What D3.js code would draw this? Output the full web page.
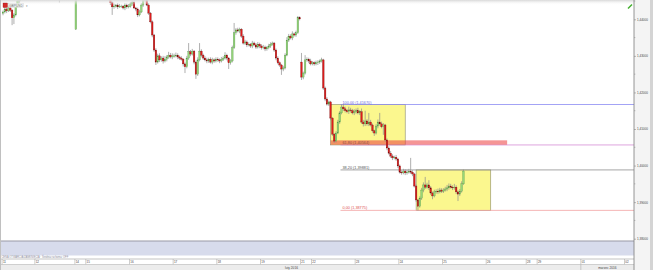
<!DOCTYPE html>
<html>
<head>
<meta charset="utf-8">
<script src="https://cdn.jsdelivr.net/npm/d3@7"></script>
<style>
  html, body { margin: 0; padding: 0; background: #fff; overflow: hidden; }
  svg { display: block; font-family: "Liberation Sans", Arial, sans-serif; }
</style>
</head>
<body>
<svg id="chart" width="653" height="270"></svg>
<script>
// GBPUSD, H1 candles, 11-25 Feb 2016
const firstOpen = 1.4416
const closes = [
  // 11
  1.4420,1.4428,1.4423,1.4431,1.4425,1.4404,1.4412,1.4436,1.4450,1.4464,1.4472,1.4478,1.4470,1.4476,1.4484,1.4480,1.4487,1.4482,
  // 12
  1.4478,1.4485,1.4491,1.4486,1.4480,1.4475,1.4479,1.4472,1.4468,1.4474,1.4470,1.4465,1.4462,1.4458,1.4466,1.4471,1.4476,1.4480,1.4477,1.4483,1.4479,1.4475,
  // 14
  1.4466,1.4470,1.4474,1.4469,1.4473,1.4478,
  // 15
  1.4482,1.4489,1.4494,1.4488,1.4484,1.4479,1.4485,1.4481,1.4476,1.4471,1.4467,1.4463,1.4459,1.4445,1.4434,1.4436,1.4439,1.4434,1.4436,1.4436,1.4431,1.4439,1.4434,1.4436,
  // 16
  1.4442,1.4447,1.4431,1.4428,1.4412,1.4420,1.4439,1.4453,1.4467,1.4439,1.4417,1.4393,1.4357,1.4316,1.4283,1.4300,1.4289,1.4294,1.4286,1.4291,1.4297,1.4302,1.4297,1.4300,
  // 17
  1.4300,1.4302,1.4297,1.4294,1.4291,1.4278,1.4270,1.4294,1.4311,1.4305,1.4313,1.4283,1.4250,1.4289,1.4313,1.4302,1.4294,1.4289,1.4286,1.4291,1.4283,1.4289,1.4286,1.4291,
  // 18
  1.4289,1.4286,1.4291,1.4294,1.4302,1.4294,1.4281,1.4286,1.4322,1.4363,1.4371,1.4368,1.4373,1.4354,1.4335,1.4338,1.4330,1.4332,1.4327,1.4335,1.4330,1.4324,1.4332,1.4327,
  // 19
  1.4322,1.4324,1.4319,1.4322,1.4327,1.4332,1.4335,1.4316,1.4294,1.4281,1.4275,1.4264,1.4267,1.4302,1.4343,1.4354,1.4349,1.4360,1.4357,1.4363,1.4404,1.4401,
  // 21
  1.4242,1.4253,1.4289,1.4291,1.4286,1.4278,
  // 22
  1.4281,1.4278,1.4281,1.4283,1.4286,1.4289,1.4212,1.4182,1.4168,1.4174,1.4130,1.4086,1.4067,1.4089,1.4119,1.4144,1.4160,1.4155,1.4150,1.4147,1.4152,1.4150,1.4144,1.4147,
  // 23
  1.4150,1.4144,1.4147,1.4119,1.4114,1.4122,1.4114,1.4119,1.4111,1.4095,1.4089,1.4108,1.4119,1.4114,1.4106,1.4111,1.4070,1.4048,1.4034,1.4026,1.4021,1.4023,1.4018,1.3999,
  // 24
  1.3982,1.3980,1.3985,1.3980,1.3982,1.3985,1.3982,1.3977,1.3944,1.3906,1.3889,1.3911,1.3933,1.3947,1.3941,1.3947,1.3939,1.3925,1.3917,1.3928,1.3930,1.3928,1.3933,1.3930,
  // 25
  1.3933,1.3936,1.3939,1.3944,1.3941,1.3939,1.3941,1.3928,1.3922,1.3930,1.3950,1.3985
]
// wick length above / below the body, in pips
const upWick = [
  4,6,3,5,4,3,5,4,6,3,5,4,6,3,4,5,3,4,
  5,3,4,6,3,4,5,3,4,6,3,5,4,3,5,4,3,6,4,3,5,4,
  4,5,3,4,6,3,
  4,5,3,6,4,3,5,4,3,5,4,3,4,5,4,7,3,5,6,4,3,5,4,6,
  5,4,6,3,4,6,5,4,3,4,5,3,4,3,5,6,7,5,6,8,5,9,6,7,
  6,7,5,4,5,3,4,6,24,5,6,3,4,7,22,5,4,5,6,4,5,6,4,5,
  5,4,6,5,8,4,3,5,6,27,5,6,4,3,5,6,4,5,3,6,4,5,6,4,
  5,6,4,5,6,5,4,3,4,5,4,3,6,5,8,6,5,7,4,6,5,4,
  25,4,13,5,4,6,
  5,4,6,5,4,6,3,4,5,4,3,2,3,5,6,5,7,8,6,5,9,6,5,7,
  6,8,5,9,6,28,5,25,6,4,3,5,7,25,6,5,3,4,5,6,5,4,6,3,
  4,5,6,5,7,6,36,5,3,4,2,5,6,7,22,6,13,5,4,6,5,7,6,5,
  5,6,8,7,6,5,9,5,4,6,7,4
]
const downWick = [
  5,4,6,3,5,20,17,4,3,5,4,6,3,5,4,3,5,4,
  4,5,3,4,6,3,5,4,3,5,4,6,3,12,4,5,3,4,6,3,4,5,
  2,4,5,3,4,5,
  3,5,4,6,3,4,5,3,4,6,3,5,4,6,22,5,4,6,3,5,4,6,5,4,
  4,5,3,6,6,4,3,5,4,3,5,4,6,5,8,4,6,5,7,4,6,5,4,6,
  5,4,6,5,4,7,17,4,5,6,4,6,13,5,4,6,5,4,6,5,4,6,5,4,
  5,6,4,5,4,6,17,5,4,3,5,4,6,5,4,5,6,4,5,6,4,5,4,6,
  5,4,6,5,4,5,4,5,6,4,5,16,6,4,3,5,4,6,4,5,3,4,
  8,6,4,5,6,4,
  4,5,4,6,5,4,5,6,4,5,6,5,5,4,3,5,4,6,5,4,6,5,4,6,
  5,4,6,5,7,6,5,6,4,5,8,4,6,5,4,22,5,6,4,5,6,4,5,6,
  4,5,4,6,5,4,5,6,4,5,11.5,4,5,6,5,4,6,5,9,4,5,6,4,5,
  5,4,6,5,4,6,5,6,19,5,4,3
]
// weekend gap opens
const gapIdx = [40, 164]
const gapOpen = [1.4373, 1.4283]

// time axis (bar index of each day's first bar)
const dayLabels = ['11','12','14','15','16','17','18','19','21','22','23','24','25','26','28','29','01','02']
const dayStarts = [0, 18, 40, 46, 70, 94, 118, 142, 164, 170, 194, 218, 242, 266, 288, 294, 318, 342]
const monthLabels = ['luty 2016', 'marzec 2016']
const monthStarts = [0, 318]
const lastBar = 346

const priceTicks = [1.38, 1.39, 1.40, 1.41, 1.42, 1.43, 1.44]
const minorTicks = [1.385, 1.395, 1.405, 1.415, 1.425, 1.435, 1.445]

// Fibonacci retracement, drawn from the 22 Feb high to the 24 Feb low
const fibLevels = [100, 61.8, 38.2, 0]
const fibPrices = [1.41670, 1.40564, 1.39881, 1.38775]
const fibFrom = 186

// yellow boxes [bar from, bar to, price top, price bottom]
const boxFrom = [180, 227]
const boxTo = [221, 268]
const boxTop = [1.41670, 1.39881]
const boxBottom = [1.40564, 1.38775]

// red zone
const zoneFrom = 180, zoneTo = 277
const zoneTop = 1.4069, zoneBottom = 1.4057

const SVG = d3.select('#chart')
const PLOT_L = 1, PLOT_R = 634, PLOT_B = 240
const comma = v => v.toFixed(5).replace('.', ',')

const x = d3.scaleLinear().domain([0, lastBar]).range([3, 632.7])
const y = d3.scaleLinear().domain([1.38, 1.44]).range([238.7, 19.3])
const step = x(1) - x(0)

// backgrounds
SVG.append('rect').attr('width', 653).attr('height', 270).attr('fill', '#fff')
SVG.append('rect').attr('x', PLOT_R).attr('y', 0).attr('width', 653 - PLOT_R).attr('height', 270).attr('fill', '#f4f4f4')
SVG.append('rect').attr('x', 650).attr('y', 0).attr('width', 3).attr('height', 270).attr('fill', '#d4d4d4')

const defs = SVG.append('defs')
defs.append('clipPath').attr('id', 'plotclip')
  .append('rect').attr('x', PLOT_L).attr('y', 0).attr('width', PLOT_R - PLOT_L).attr('height', PLOT_B)
const grad = defs.append('linearGradient').attr('id', 'topshade').attr('x1', 0).attr('x2', 0).attr('y1', 0).attr('y2', 1)
grad.append('stop').attr('offset', 0).attr('stop-color', '#d8d8d8')
grad.append('stop').attr('offset', 1).attr('stop-color', '#fff').attr('stop-opacity', 0)

const plot = SVG.append('g').attr('clip-path', 'url(#plotclip)')

// yellow boxes
plot.selectAll('.box').data(boxFrom).enter().append('rect')
  .attr('class', 'box')
  .attr('x', (d, k) => x(d))
  .attr('y', (d, k) => y(boxTop[k]))
  .attr('width', (d, k) => x(boxTo[k]) - x(d))
  .attr('height', (d, k) => y(boxBottom[k]) - y(boxTop[k]))
  .attr('fill', '#fbf78e')
  .attr('stroke', '#8a8a6a')
  .attr('stroke-width', 0.6)

// fib lines
const fibColors = ['#8c8cf2', '#d68ed6', '#8e8e8e', '#f2a2a2']
const fibText = ['#6a6ad8', '#8a4a4a', '#555', '#e05050']
plot.selectAll('.fib').data(fibPrices).enter().append('line')
  .attr('class', 'fib')
  .attr('x1', x(fibFrom) - 1).attr('x2', PLOT_R)
  .attr('y1', d => y(d)).attr('y2', d => y(d))
  .attr('stroke', (d, k) => fibColors[k])
  .attr('stroke-width', 0.8)

// red zone
plot.append('rect')
  .attr('x', x(zoneFrom)).attr('y', y(zoneTop))
  .attr('width', x(zoneTo) - x(zoneFrom)).attr('height', y(zoneBottom) - y(zoneTop))
  .attr('fill', 'rgb(236,62,62)').attr('fill-opacity', 0.55)

// candles
let prev = firstOpen
const candles = closes.map((c, i) => {
  const g = gapIdx.indexOf(i)
  const o = g >= 0 ? gapOpen[g] : prev
  prev = c
  return { i, o, c, h: Math.max(o, c) + upWick[i] * 1e-4, l: Math.min(o, c) - downWick[i] * 1e-4 }
})

plot.append('g').selectAll('line').data(candles).enter().append('line')
  .attr('x1', d => x(d.i)).attr('x2', d => x(d.i))
  .attr('y1', d => y(d.h)).attr('y2', d => y(d.l))
  .attr('stroke', '#8c8c8c').attr('stroke-width', 0.7)

plot.append('g').selectAll('rect').data(candles).enter().append('rect')
  .attr('x', d => x(d.i) - 0.8)
  .attr('width', 1.6)
  .attr('y', d => y(Math.max(d.o, d.c)))
  .attr('height', d => Math.max(0.6, Math.abs(y(d.o) - y(d.c))))
  .attr('fill', d => d.c >= d.o ? '#96d57a' : '#e01c1c')
  .attr('stroke', d => d.c >= d.o ? '#4e9440' : '#6e0808')
  .attr('stroke-width', 0.3)

// fib labels
plot.selectAll('.fiblabel').data(fibPrices).enter().append('text')
  .attr('class', 'fiblabel')
  .attr('x', x(fibFrom) + 1)
  .attr('y', d => y(d) - 0.9)
  .attr('font-size', 3.8)
  .attr('fill', (d, k) => fibText[k])
  .text((d, k) => fibLevels[k].toFixed(2).replace('.', ',') + ' (' + comma(d) + ')')

// top shade
SVG.append('rect').attr('x', PLOT_L).attr('y', 0).attr('width', PLOT_R - PLOT_L).attr('height', 5).attr('fill', 'url(#topshade)')

// symbol label
SVG.append('rect').attr('x', 3).attr('y', 3).attr('width', 4.5).attr('height', 4.5).attr('fill', '#d42a2a').attr('stroke', '#8a1010').attr('stroke-width', 0.3)
SVG.append('rect').attr('x', 8.2).attr('y', 3.2).attr('width', 15.5).attr('height', 4.2).attr('fill', '#fff').attr('fill-opacity', 0.85).attr('stroke', '#bbb').attr('stroke-width', 0.3)
SVG.append('text').attr('x', 9).attr('y', 6.5).attr('font-size', 3.3).attr('fill', '#666').text('GBPUSD')
SVG.append('text').attr('x', 25.5).attr('y', 6.5).attr('font-size', 3).attr('fill', '#888').text('▾')

// live marker
SVG.append('path').attr('d', 'M627.5,8 L631.5,4 L632.5,5 L628.5,9 Z').attr('fill', '#3fae2a')

// price axis
const yAxis = d3.axisRight(y).tickValues(priceTicks).tickSize(2).tickPadding(1).tickFormat(comma)
const ya = SVG.append('g').attr('transform', `translate(${PLOT_R},0)`).call(yAxis)
ya.attr('font-size', 3).attr('font-family', '"Liberation Sans", Arial, sans-serif')
ya.select('.domain').remove()
ya.selectAll('line').attr('stroke', '#777').attr('stroke-width', 0.5)
ya.selectAll('text').attr('font-size', 3).attr('fill', '#444')
SVG.append('g').selectAll('line').data(minorTicks).enter().append('line')
  .attr('x1', PLOT_R).attr('x2', PLOT_R + 1.4)
  .attr('y1', d => y(d)).attr('y2', d => y(d))
  .attr('stroke', '#888').attr('stroke-width', 0.5)

// indicator strip
SVG.append('rect').attr('x', PLOT_L).attr('y', 241).attr('width', PLOT_R - PLOT_L).attr('height', 14.5).attr('fill', '#d7dbec')
SVG.append('line').attr('x1', PLOT_L).attr('x2', PLOT_R).attr('y1', 241).attr('y2', 241).attr('stroke', '#9a9aa6').attr('stroke-width', 1.2)
SVG.append('text').attr('x', 1.5).attr('y', 258.2).attr('font-size', 2.6).attr('fill', '#8a8a9a')
  .text('CENA OTWARCIA/ZAMKNIĘCIA · Średnia ruchoma: OFF')

// day row
SVG.append('line').attr('x1', PLOT_L).attr('x2', PLOT_R).attr('y1', 259).attr('y2', 259).attr('stroke', '#9a9a9a').attr('stroke-width', 0.6)
const dayRow = SVG.append('g')
dayRow.selectAll('line').data(dayStarts).enter().append('line')
  .attr('x1', d => x(d) - step / 2).attr('x2', d => x(d) - step / 2)
  .attr('y1', 259).attr('y2', 264.5)
  .attr('stroke', '#9a9a9a').attr('stroke-width', 0.5)
dayRow.selectAll('text').data(dayStarts).enter().append('text')
  .attr('x', d => x(d) - step / 2 + 0.8)
  .attr('y', 263.4)
  .attr('font-size', 3).attr('fill', '#444')
  .text((d, k) => dayLabels[k])

// month row
SVG.append('rect').attr('x', PLOT_L).attr('y', 264.5).attr('width', PLOT_R - PLOT_L).attr('height', 5.5).attr('fill', '#ececec')
SVG.append('line').attr('x1', PLOT_L).attr('x2', PLOT_R).attr('y1', 264.5).attr('y2', 264.5).attr('stroke', '#a8a8a8').attr('stroke-width', 0.5)
const monthEdges = monthStarts.map(d => Math.max(PLOT_L, x(d) - step / 2)).concat([PLOT_R])
SVG.append('g').selectAll('line').data(monthEdges.slice(1, -1)).enter().append('line')
  .attr('x1', d => d).attr('x2', d => d).attr('y1', 264.5).attr('y2', 270)
  .attr('stroke', '#a0a0a0').attr('stroke-width', 0.5)
SVG.append('g').selectAll('text').data(monthLabels).enter().append('text')
  .attr('x', (d, k) => (monthEdges[k] + monthEdges[k + 1]) / 2)
  .attr('y', 268.9)
  .attr('text-anchor', 'middle')
  .attr('font-size', 3.2).attr('fill', '#444')
  .text(d => d)

// frame
SVG.append('line').attr('x1', PLOT_R).attr('x2', PLOT_R).attr('y1', 0).attr('y2', 270).attr('stroke', '#7c7c7c').attr('stroke-width', 0.8)
SVG.append('line').attr('x1', 0.5).attr('x2', 0.5).attr('y1', 0).attr('y2', 270).attr('stroke', '#b0b0b0').attr('stroke-width', 0.8)
</script>
</body>
</html>
